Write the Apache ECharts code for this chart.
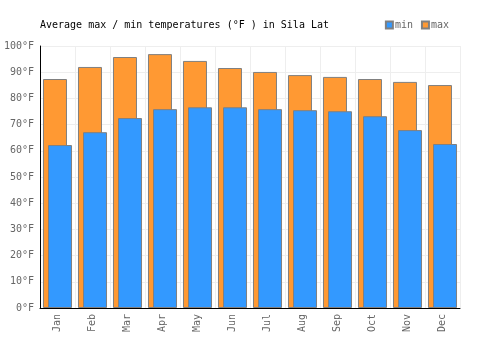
<!DOCTYPE html>
<html lang="en">
  <head>
    <meta charset="UTF-8" />
    <title>Sila Lat temperatures</title>
    <script src="https://cdn.jsdelivr.net/npm/echarts@6/dist/echarts.min.js"></script>
    <style>
      body {
        margin: 0;
        padding: 0;
        background: #fff;
      }
      #main {
        width: 500px;
        height: 350px;
      }
    </style>
  </head>
  <body>
    <div id="main"></div>

    <script>
      const months = ["Jan", "Feb", "Mar", "Apr", "May", "Jun", "Jul", "Aug", "Sep", "Oct", "Nov", "Dec"];
      const maxTemps = [87.4, 92.0, 95.8, 96.9, 94.3, 91.6, 90.1, 88.9, 88.2, 87.4, 86.3, 85.1];
      const minTemps = [62.2, 67.1, 72.5, 75.9, 76.6, 76.6, 75.9, 75.5, 75.1, 73.2, 67.9, 62.6];

      const mono = "DejaVu Sans Mono";
      const chart = echarts.init(document.getElementById("main"));

      chart.setOption({
        animation: false,
        title: {
          text: "Average max / min temperatures (°F ) in Sila Lat",
          left: 35,
          top: 15,
          textStyle: { fontFamily: mono, fontSize: 10, fontWeight: "normal", color: "#000" },
        },
        legend: {
          data: ["min", "max"],
          right: 46,
          top: 15,
          icon: "rect",
          itemWidth: 7,
          itemHeight: 7,
          itemGap: 8,
          textStyle: { fontFamily: mono, fontSize: 10, color: "#666", padding: [0, 0, 0, -3] },
        },
        grid: { left: 40, right: 40, top: 46, bottom: 42 },
        xAxis: {
          type: "category",
          data: months,
          axisLine: { lineStyle: { color: "#000" } },
          axisTick: { show: false },
          splitLine: { show: true, interval: 0, lineStyle: { color: "#eee" } },
          axisLabel: { rotate: 90, interval: 0, fontFamily: mono, fontSize: 10, color: "#666", margin: 6 },
        },
        yAxis: {
          type: "value",
          min: 0,
          max: 100,
          interval: 10,
          axisLine: { show: true, lineStyle: { color: "#000" } },
          axisTick: { show: false },
          splitLine: { lineStyle: { color: "#eee" } },
          axisLabel: { formatter: "{value}°F", fontFamily: mono, fontSize: 10, color: "#666", margin: 6 },
        },
        series: [
          {
            name: "max",
            type: "bar",
            data: maxTemps,
            barWidth: 24,
            itemStyle: { color: "#ff9933", borderColor: "#808080", borderWidth: 1 },
          },
          {
            name: "min",
            type: "bar",
            data: minTemps,
            barWidth: 24,
            barGap: "-79%",
            itemStyle: { color: "#3399ff", borderColor: "#808080", borderWidth: 1 },
          },
        ],
      });
    </script>
  </body>
</html>
